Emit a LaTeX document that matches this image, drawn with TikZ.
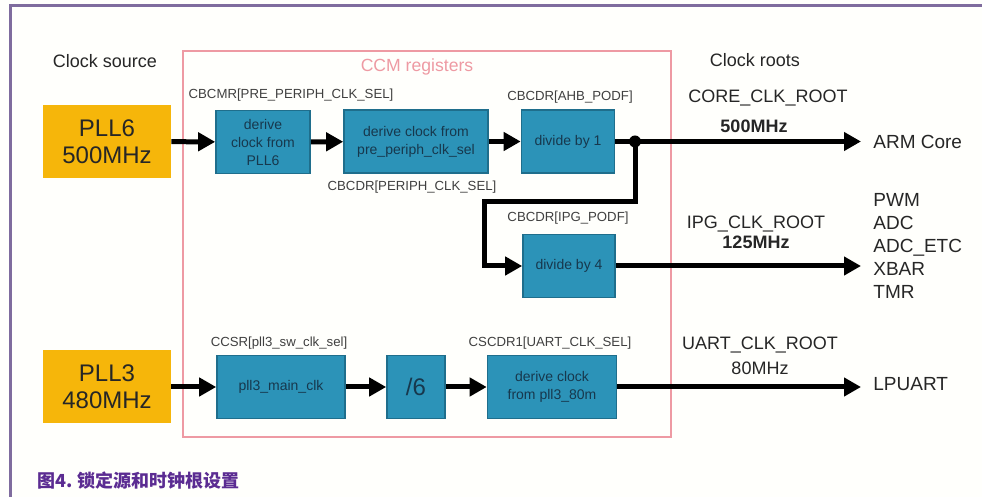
\documentclass[tikz,border=0pt]{standalone}
\usepackage{fontspec}
\setmainfont{Liberation Sans}
\newfontfamily\cjk{Noto Sans CJK SC}
\usetikzlibrary{arrows.meta, positioning}

\definecolor{pllorange}{HTML}{F6B60A}
\definecolor{blkblue}{HTML}{2C93B8}
\definecolor{blkedge}{HTML}{1F6E8C}
\definecolor{blktext}{HTML}{17384D}
\definecolor{ccmpink}{HTML}{EE9AA3}
\definecolor{framepurple}{HTML}{7F6C9E}
\definecolor{captpurple}{HTML}{5B2C92}

\begin{document}
\begin{tikzpicture}[x=0.5pt, y=-0.5pt,
    pllbox/.style={fill=pllorange, draw=none, minimum width=64pt, minimum height=36.5pt,
        align=center, font=\fontsize{12}{13.5}\selectfont, text=black!85},
    blkbox/.style={fill=blkblue, draw=blkedge, line width=0.8pt, minimum height=31.5pt,
        align=center, font=\fontsize{7}{9}\selectfont, text=blktext, inner sep=1pt},
    regtxt/.style={font=\fontsize{6.6}{8}\selectfont, text=black!75, inner sep=0pt},
    roottxt/.style={font=\fontsize{9}{11}\selectfont, text=black!85, inner sep=0pt},
    arr/.style={line width=2.5pt, -{Triangle[length=8.5pt, width=9pt]}}]

    \fill[white!99!yellow] (0,0) rectangle (982,497);
    \useasboundingbox (0,0) rectangle (982,497);
    % outer frame, only top and left edges show
    \draw[framepurple, line width=1.5pt] (10,497) -- (10,6) -- (982,6);

    % CCM register box
    \draw[ccmpink, line width=0.9pt] (183,51) rectangle (671,437);
    \node[font=\fontsize{8.8}{10}\selectfont, text=ccmpink] (ccm) at (417,67) {CCM registers};

    \node[font=\fontsize{9}{11}\selectfont, text=black!85] (src) at (105,61) {Clock source};
    \node[font=\fontsize{9}{11}\selectfont, text=black!85] (roots) at (755,60) {Clock roots};

    % clock sources
    \node[pllbox] (pll6) at (107,141.5) {PLL6\\500MHz};
    \node[pllbox] (pll3) at (107,387) {PLL3\\480MHz};

    % blocks
    \node[blkbox, minimum width=47pt] (drv6) at (263,142) {derive\\clock from\\PLL6};
    \node[blkbox, minimum width=72pt] (drvpre) at (416,141.5) {derive clock from\\pre\_periph\_clk\_sel};
    \node[blkbox, minimum width=46.5pt] (div1) at (568,141.5) {divide by 1};
    \node[blkbox, minimum width=46pt] (div4) at (569,266) {divide by 4};
    \node[blkbox, minimum width=64pt] (pmain) at (281,387) {pll3\_main\_clk};
    \node[blkbox, minimum width=29pt, font=\fontsize{12}{13}\selectfont] (div6) at (416,387) {/6};
    \node[blkbox, minimum width=64.5pt] (drv80) at (552,387) {derive clock\\from pll3\_80m};

    % register labels
    \node[regtxt] (r1) at (291,95) {CBCMR[PRE\_PERIPH\_CLK\_SEL]};
    \node[regtxt] (r2) at (412,187) {CBCDR[PERIPH\_CLK\_SEL]};
    \node[regtxt] (r3) at (570,97) {CBCDR[AHB\_PODF]};
    \node[regtxt] (r4) at (568,218) {CBCDR[IPG\_PODF]};
    \node[regtxt] (r5) at (279,343) {CCSR[pll3\_sw\_clk\_sel]};
    \node[regtxt] (r6) at (550,343) {CSCDR1[UART\_CLK\_SEL]};

    % clock roots
    \node[roottxt] (core) at (768,98) {CORE\_CLK\_ROOT};
    \node[roottxt, font=\fontsize{9}{11}\selectfont\bfseries] (f500) at (754,126) {500MHz};
    \node[roottxt] (ipg) at (756,224) {IPG\_CLK\_ROOT};
    \node[roottxt, font=\fontsize{9}{11}\selectfont\bfseries] (f125) at (756,242) {125MHz};
    \node[roottxt] (uart) at (760,345) {UART\_CLK\_ROOT};
    \node[roottxt] (f80) at (760,368) {80MHz};

    % consumers
    \node[roottxt, font=\fontsize{9.5}{11.5}\selectfont, anchor=west] (arm) at (873,141.5) {ARM Core};
    \node[roottxt, font=\fontsize{9.5}{11.5}\selectfont, anchor=west, align=left] (periph) at (873,246) {PWM\\ADC\\ADC\_ETC\\XBAR\\TMR};
    \node[roottxt, font=\fontsize{9.5}{11.5}\selectfont, anchor=west] (lpuart) at (873,384) {LPUART};

    % connections
    \coordinate (junc) at (635,141.5);
    \coordinate (bend) at (484,202);
    \draw[arr] (pll6) -- (drv6);
    \draw[arr] (drv6) -- (drvpre);
    \draw[arr] (drvpre) -- (div1);
    \draw[line width=2.5pt] (div1) -- (junc);
    \draw[arr, shorten >=6pt] (junc) -- (arm.west);
    \fill (junc) circle (3pt);
    \draw[arr] (junc) |- (bend) |- (div4.west);
    \draw[arr, shorten >=6pt] (div4) -- (div4 -| periph.west);
    \draw[arr] (pll3) -- (pmain);
    \draw[arr] (pmain) -- (div6);
    \draw[arr] (div6) -- (drv80);
    \draw[arr, shorten >=6pt] (drv80) -- (drv80 -| lpuart.west);

    % caption
    \node[anchor=west, text=captpurple, font=\cjk\bfseries\fontsize{9}{11}\selectfont] (cap) at (30,481) {图4. 锁定源和时钟根设置};
\end{tikzpicture}
\end{document}
